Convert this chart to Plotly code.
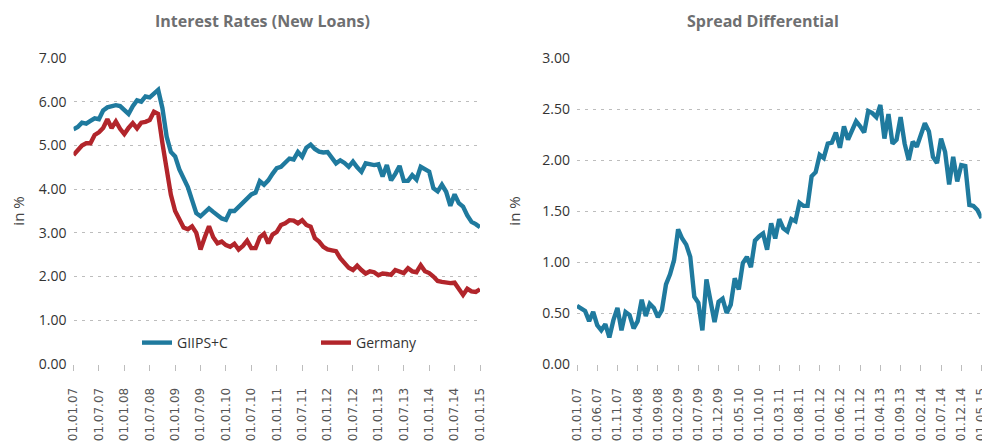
import plotly.graph_objects as go

# ---------------- data ----------------
giips = [5.37, 5.42, 5.52, 5.50, 5.56, 5.62, 5.60, 5.80, 5.87, 5.90,
         5.92, 5.90, 5.80, 5.72, 5.90, 6.03, 6.00, 6.12, 6.10, 6.18,
         6.27, 5.85, 5.20, 4.85, 4.75, 4.45, 4.25, 4.05, 3.75, 3.45,
         3.38, 3.48, 3.56, 3.48, 3.40, 3.33, 3.30, 3.50, 3.50, 3.60,
         3.70, 3.80, 3.88, 3.92, 4.18, 4.10, 4.20, 4.35, 4.48, 4.51,
         4.60, 4.70, 4.68, 4.85, 4.74, 4.95, 5.02, 4.92, 4.86, 4.84,
         4.85, 4.72, 4.59, 4.66, 4.60, 4.51, 4.63, 4.50, 4.40, 4.59,
         4.57, 4.55, 4.57, 4.29, 4.55, 4.20, 4.35, 4.53, 4.19, 4.19,
         4.32, 4.22, 4.51, 4.45, 4.40, 4.02, 3.95, 4.10, 3.94, 3.62,
         3.88, 3.68, 3.60, 3.40, 3.25, 3.20, 3.13]

germany = [4.78, 4.88, 5.00, 5.05, 5.05, 5.24, 5.30, 5.40, 5.60, 5.40,
           5.55, 5.38, 5.26, 5.40, 5.51, 5.39, 5.52, 5.54, 5.58, 5.77,
           5.72, 5.05, 4.44, 3.87, 3.50, 3.30, 3.12, 3.08, 3.15, 3.00,
           2.62, 2.90, 3.15, 2.90, 2.76, 2.80, 2.72, 2.68, 2.75, 2.62,
           2.70, 2.82, 2.65, 2.65, 2.90, 2.98, 2.76, 2.96, 3.02, 3.18,
           3.22, 3.29, 3.28, 3.22, 3.29, 3.18, 3.14, 2.88, 2.80, 2.68,
           2.62, 2.60, 2.58, 2.42, 2.32, 2.20, 2.15, 2.25, 2.15, 2.07,
           2.12, 2.10, 2.03, 2.07, 2.06, 2.04, 2.15, 2.12, 2.08, 2.19,
           2.12, 2.10, 2.26, 2.12, 2.08, 2.00, 1.90, 1.88, 1.86, 1.85,
           1.86, 1.70, 1.58, 1.72, 1.66, 1.65, 1.71]

spread = [0.57, 0.55, 0.52, 0.42, 0.51, 0.38, 0.33, 0.39, 0.26, 0.43,
          0.55, 0.33, 0.51, 0.48, 0.35, 0.42, 0.63, 0.47, 0.59, 0.55,
          0.46, 0.53, 0.78, 0.88, 1.02, 1.32, 1.23, 1.17, 1.05, 0.66,
          0.60, 0.33, 0.83, 0.62, 0.41, 0.61, 0.64, 0.50, 0.58, 0.84,
          0.73, 0.99, 1.05, 0.95, 1.21, 1.25, 1.28, 1.12, 1.38, 1.23,
          1.42, 1.33, 1.30, 1.42, 1.40, 1.58, 1.55, 1.55, 1.84, 1.88,
          2.05, 2.02, 2.16, 2.17, 2.27, 2.12, 2.33, 2.20, 2.28, 2.38,
          2.33, 2.27, 2.48, 2.46, 2.42, 2.54, 2.21, 2.45, 2.16, 2.20,
          2.42, 2.16, 2.00, 2.18, 2.13, 2.25, 2.36, 2.28, 2.03, 1.97,
          2.21, 2.08, 1.76, 2.03, 1.79, 1.95, 1.94, 1.56, 1.55, 1.51,
          1.43]

left_ticklabels = ["01.01.07", "01.07.07", "01.01.08", "01.07.08", "01.01.09",
                   "01.07.09", "01.01.10", "01.07.10", "01.01.11", "01.07.11",
                   "01.01.12", "01.07.12", "01.01.13", "01.07.13", "01.01.14",
                   "01.07.14", "01.01.15"]
left_tickstep = 6

right_ticklabels = ["01.01.07", "01.06.07", "01.11.07", "01.04.08", "01.09.08",
                    "01.02.09", "01.07.09", "01.12.09", "01.05.10", "01.10.10",
                    "01.03.11", "01.08.11", "01.01.12", "01.06.12", "01.11.12",
                    "01.04.13", "01.09.13", "01.02.14", "01.07.14", "01.12.14",
                    "01.05.15"]
right_tickstep = 5

# ---------------- styling ----------------
# the page body has an 8px default margin, so the figure is offset by 8px
OFF = 8
W, H = 990 - OFF, 446 - OFF
TEAL = "#1f7a9e"
RED = "#b2252b"
GRID = "#bdbdbd"
TXT = "#333333"
TITLE = "#6e6f71"
FONT = "Open Sans"
XFONT = "DejaVu Sans"

def px(x):
    return (x - OFF) / W

def py(y):
    return 1 - (y - OFF) / H

fig = go.Figure()
fig.add_trace(go.Scatter(x=list(range(len(giips))), y=giips, name="GIIPS+C",
                         mode="lines", line=dict(color=TEAL, width=4.4),
                         xaxis="x", yaxis="y"))
fig.add_trace(go.Scatter(x=list(range(len(germany))), y=germany, name="Germany",
                         mode="lines", line=dict(color=RED, width=4.4),
                         xaxis="x", yaxis="y"))
fig.add_trace(go.Scatter(x=list(range(len(spread))), y=spread, name="Spread",
                         mode="lines", line=dict(color=TEAL, width=4.4),
                         showlegend=False, xaxis="x2", yaxis="y2"))

xcommon = dict(tickangle=-90, ticks="outside", ticklen=6, tickwidth=1,
               tickcolor=GRID, showgrid=False, zeroline=False, showline=False,
               automargin=False,
               tickfont=dict(family=XFONT, size=12, color="#555555"),
               ticklabelstandoff=12)
ycommon = dict(showgrid=True, gridcolor=GRID, gridwidth=1, griddash="3px,5px",
               zeroline=False, showline=False, ticks="", automargin=False,
               tickformat=".2f", ticklabelstandoff=6,
               tickfont=dict(family=FONT, size=14, color=TXT),
               title=dict(text="in %", font=dict(family=FONT, size=15, color="#444444"),
                          standoff=18))

fig.update_layout(
    width=W, height=H,
    margin=dict(l=0, r=0, t=0, b=0, autoexpand=False),
    paper_bgcolor="white", plot_bgcolor="white",
    showlegend=True,
    xaxis=dict(domain=[px(73.5), px(480)], anchor="y", range=[0, len(giips) - 1],
               tickvals=list(range(0, len(giips), left_tickstep)),
               ticktext=left_ticklabels, **xcommon),
    yaxis=dict(domain=[py(364), py(58)], anchor="x", range=[0, 7], dtick=1, **ycommon),
    xaxis2=dict(domain=[px(577), px(981.5)], anchor="y2", range=[0, len(spread) - 1],
                tickvals=list(range(0, len(spread), right_tickstep)),
                ticktext=right_ticklabels, **xcommon),
    yaxis2=dict(domain=[py(364), py(58)], anchor="x2", range=[0, 3], dtick=0.5, **ycommon),
    legend=dict(orientation="h", x=px(137), y=py(343), xanchor="left", yanchor="middle",
                bgcolor="rgba(0,0,0,0)", font=dict(family=FONT, size=14, color=TXT),
                entrywidthmode="pixels", entrywidth=134, tracegroupgap=0),
    annotations=[
        dict(text="<b>Interest Rates (New Loans)</b>", x=px(262), y=py(21),
             xref="paper", yref="paper", xanchor="center", yanchor="middle",
             showarrow=False, font=dict(family=FONT, size=16, color=TITLE)),
        dict(text="<b>Spread Differential</b>", x=px(763), y=py(21),
             xref="paper", yref="paper", xanchor="center", yanchor="middle",
             showarrow=False, font=dict(family=FONT, size=16, color=TITLE)),
    ],
)

fig.write_html("out.html")
